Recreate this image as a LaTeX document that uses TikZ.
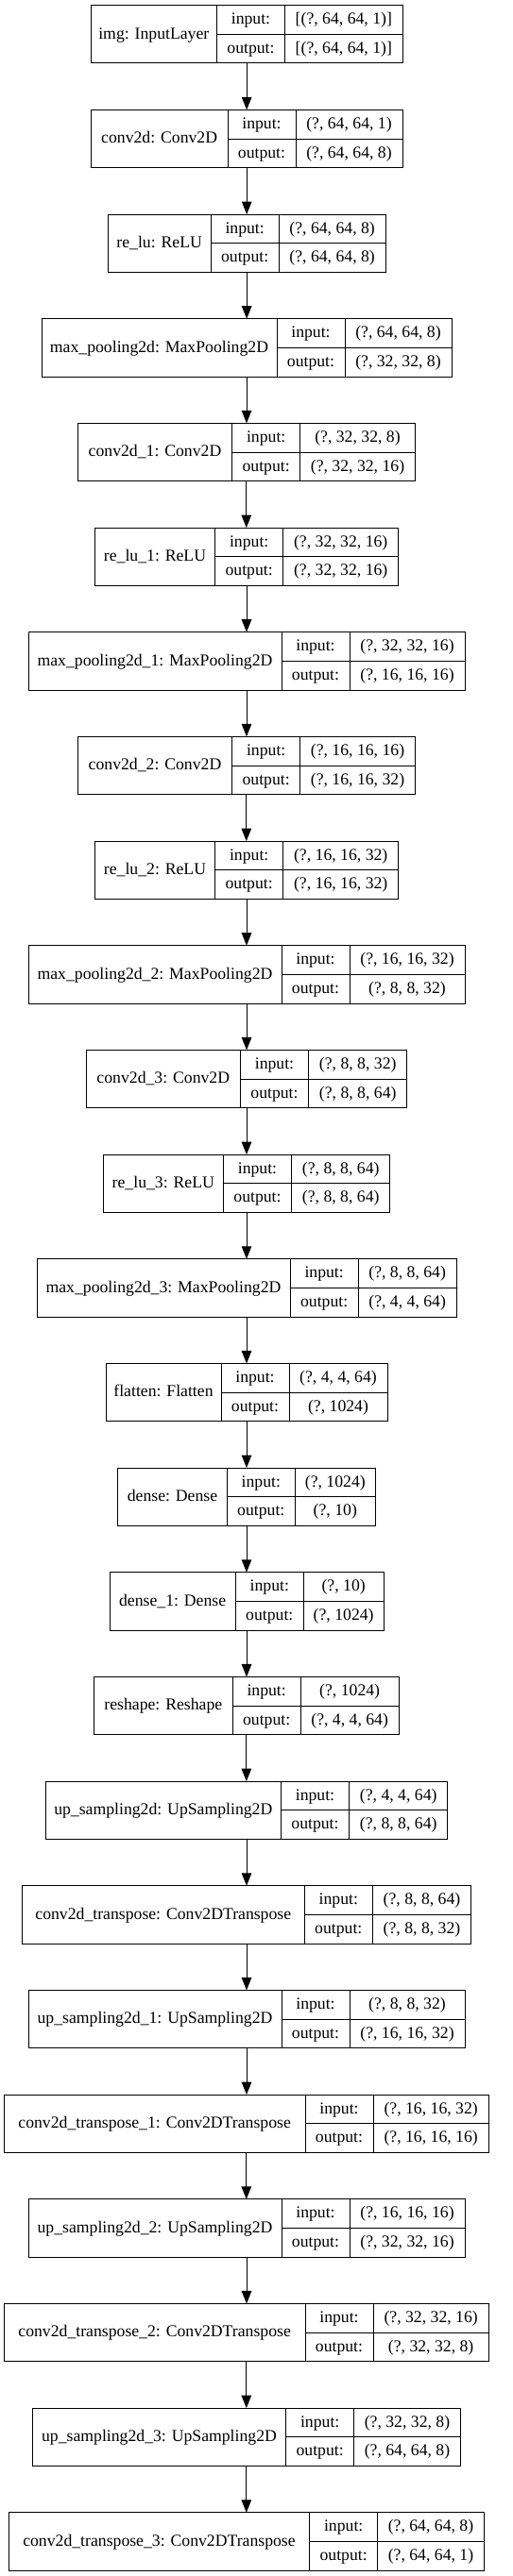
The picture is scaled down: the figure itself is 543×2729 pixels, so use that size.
\documentclass[tikz,border=0pt]{standalone}
\usepackage{fontspec}
\setmainfont{Liberation Serif}
\usetikzlibrary{arrows.meta}
\tikzset{
  box/.style={draw, line width=1pt, rectangle, inner sep=0pt, outer sep=0pt},
  txt/.style={inner sep=0pt, text height=13.5pt, text depth=3.9pt, font=\fontsize{17.7}{20}\selectfont},
  sepline/.style={line width=1pt},
  arr/.style={line width=1pt, -{Triangle[length=13.5pt,width=10.5pt]}}
}
% #1 index, #2 L, #3 d1, #4 d2, #5 R, #6 label, #7 input, #8 output
\newcommand\layerbox[8]{%
  \pgfmathsetmacro\yt{-(5.7+#1*110.67)}%
  \pgfmathsetmacro\yb{\yt-61.3}%
  \pgfmathsetmacro\ym{\yt-30.65}%
  \pgfmathsetmacro\yi{\yt-15.33}%
  \pgfmathsetmacro\yo{\yt-45.98}%
  \node[box, minimum width={#5-#2}, minimum height=61.3, anchor=north west] (l#1) at (#2,\yt) {};
  \draw[sepline] (#3,\yt) -- (#3,\yb) (#4,\yt) -- (#4,\yb) (#3,\ym) -- (#5,\ym);
  \node[txt] (l#1-name) at ({(#2+#3)/2},\ym) {#6};
  \node[txt] (l#1-ik) at ({(#3+#4)/2},\yi) {input:};
  \node[txt] (l#1-ok) at ({(#3+#4)/2},\yo) {output:};
  \node[txt] (l#1-iv) at ({(#4+#5)/2},\yi) {#7};
  \node[txt] (l#1-ov) at ({(#4+#5)/2},\yo) {#8};
}
\begin{document}
\begin{tikzpicture}[x=1pt,y=1pt]
\useasboundingbox (0,0) rectangle (543,-2729);
\layerbox{0}{96.3}{229.3}{301.7}{426}{img: InputLayer}{[(?, 64, 64, 1)]}{[(?, 64, 64, 1)]}
\layerbox{1}{96.3}{241}{313}{426}{conv2d: Conv2D}{(?, 64, 64, 1)}{(?, 64, 64, 8)}
\layerbox{2}{114.3}{223}{295.3}{408}{re\_lu: ReLU}{(?, 64, 64, 8)}{(?, 64, 64, 8)}
\layerbox{3}{44}{293}{365}{478}{max\_pooling2d: MaxPooling2D}{(?, 64, 64, 8)}{(?, 32, 32, 8)}
\layerbox{4}{82.3}{245.7}{317.7}{439.3}{conv2d\_1: Conv2D}{(?, 32, 32, 8)}{(?, 32, 32, 16)}
\layerbox{5}{100.3}{227.7}{299.7}{421.7}{re\_lu\_1: ReLU}{(?, 32, 32, 16)}{(?, 32, 32, 16)}
\layerbox{6}{30}{298}{370}{492}{max\_pooling2d\_1: MaxPooling2D}{(?, 32, 32, 16)}{(?, 16, 16, 16)}
\layerbox{7}{82.3}{245.7}{317.7}{439.3}{conv2d\_2: Conv2D}{(?, 16, 16, 16)}{(?, 16, 16, 32)}
\layerbox{8}{100.3}{227.7}{299.7}{421.7}{re\_lu\_2: ReLU}{(?, 16, 16, 32)}{(?, 16, 16, 32)}
\layerbox{9}{30}{298}{370}{492}{max\_pooling2d\_2: MaxPooling2D}{(?, 16, 16, 32)}{(?, 8, 8, 32)}
\layerbox{10}{91.3}{254.3}{326.7}{430.7}{conv2d\_3: Conv2D}{(?, 8, 8, 32)}{(?, 8, 8, 64)}
\layerbox{11}{109.3}{236.3}{308.7}{412.7}{re\_lu\_3: ReLU}{(?, 8, 8, 64)}{(?, 8, 8, 64)}
\layerbox{12}{39}{307}{379.3}{483}{max\_pooling2d\_3: MaxPooling2D}{(?, 8, 8, 64)}{(?, 4, 4, 64)}
\layerbox{13}{112}{234}{306}{410}{flatten: Flatten}{(?, 4, 4, 64)}{(?, 1024)}
\layerbox{14}{124.7}{240.3}{312.3}{397.3}{dense: Dense}{(?, 1024)}{(?, 10)}
\layerbox{15}{116}{249.3}{321.3}{406}{dense\_1: Dense}{(?, 10)}{(?, 1024)}
\layerbox{16}{99.7}{246}{318.3}{422}{reshape: Reshape}{(?, 1024)}{(?, 4, 4, 64)}
\layerbox{17}{48.3}{297.3}{369.7}{473.7}{up\_sampling2d: UpSampling2D}{(?, 4, 4, 64)}{(?, 8, 8, 64)}
\layerbox{18}{23.3}{322.3}{394.3}{498.7}{conv2d\_transpose: Conv2DTranspose}{(?, 8, 8, 64)}{(?, 8, 8, 32)}
\layerbox{19}{30}{298}{370}{492}{up\_sampling2d\_1: UpSampling2D}{(?, 8, 8, 32)}{(?, 16, 16, 32)}
\layerbox{20}{4.3}{323}{395}{517.3}{conv2d\_transpose\_1: Conv2DTranspose}{(?, 16, 16, 32)}{(?, 16, 16, 16)}
\layerbox{21}{30}{298}{370}{492}{up\_sampling2d\_2: UpSampling2D}{(?, 16, 16, 16)}{(?, 32, 32, 16)}
\layerbox{22}{4.3}{323}{395}{517.3}{conv2d\_transpose\_2: Conv2DTranspose}{(?, 32, 32, 16)}{(?, 32, 32, 8)}
\layerbox{23}{34.3}{302.7}{374.7}{487.3}{up\_sampling2d\_3: UpSampling2D}{(?, 32, 32, 8)}{(?, 64, 64, 8)}
\layerbox{24}{9.3}{327.7}{399.7}{512.3}{conv2d\_transpose\_3: Conv2DTranspose}{(?, 64, 64, 8)}{(?, 64, 64, 1)}
\foreach \i [evaluate=\i as \j using int(\i+1)] in {0,...,23}
  \draw[arr] (l\i.south) -- (l\i.south |- l\j.north);
\end{tikzpicture}
\end{document}
